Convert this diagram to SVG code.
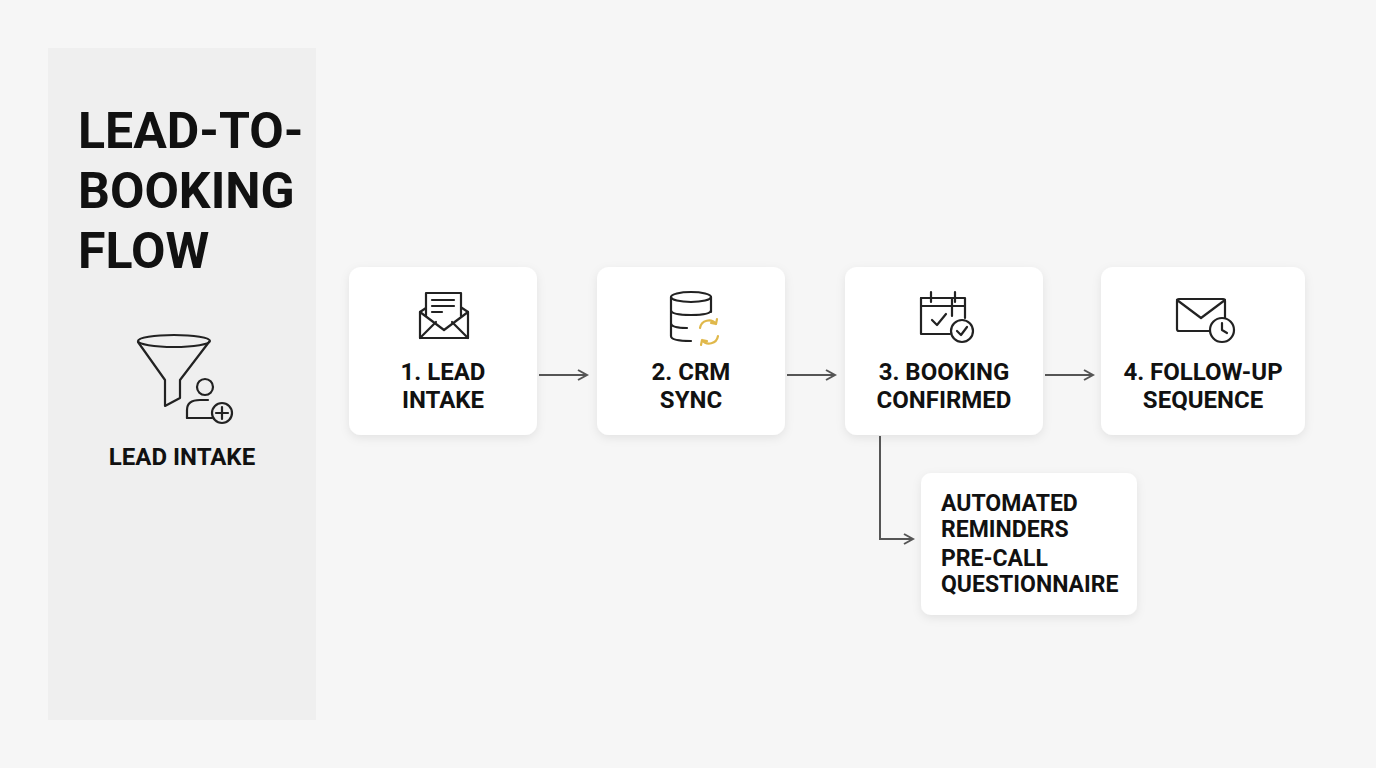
<svg xmlns="http://www.w3.org/2000/svg" width="1376" height="768" viewBox="0 0 1376 768">
<defs>
<filter id="sh" x="-20%" y="-20%" width="140%" height="150%"><feDropShadow dx="0" dy="3" stdDeviation="5" flood-color="#000" flood-opacity="0.08"/></filter>
<marker id="ar" markerWidth="12" markerHeight="12" refX="10" refY="6" orient="auto" markerUnits="userSpaceOnUse"><path d="M1,1 L10,6 L1,11" fill="none" stroke="#555" stroke-width="2"/></marker>
</defs>
<style>
.card{fill:#fff;filter:url(#sh)}
.t{font-family:Roboto,"Liberation Sans",sans-serif;font-weight:700;fill:#111;font-size:24px;text-anchor:middle}
.s{font-family:Roboto,"Liberation Sans",sans-serif;font-weight:700;fill:#111;font-size:23px}
.ic{fill:none;stroke:#222;stroke-width:2.2;stroke-linecap:round;stroke-linejoin:round}
.gd{fill:none;stroke:#e0b84a;stroke-width:2.2;stroke-linecap:round}
.c{fill:none;stroke:#555;stroke-width:2}
</style>
<rect width="1376" height="768" fill="#f6f6f6"/>
<g id="sidebar">
<rect x="48" y="48" width="268" height="672" fill="#efefef"/>
<text font-family="Roboto,'Liberation Sans',sans-serif" font-weight="700" font-size="50" fill="#111"><tspan x="78" y="148">LEAD-TO-</tspan><tspan x="78" y="208">BOOKING</tspan><tspan x="78" y="268">FLOW</tspan></text>
<g class="ic">
<ellipse cx="174" cy="341" rx="36" ry="6"/>
<path d="M138,342 L165,380 L165,406 L180,398 L180,380 L209,342"/>
<circle cx="205" cy="387" r="8"/>
<path d="M187,418 L187,410 Q187,400 200,400 L208,400"/>
<path d="M187,418 L212,418"/>
<circle cx="222" cy="413" r="10"/>
<path d="M222,407 V419 M216,413 H228"/>
</g>
<text class="t" x="182" y="465">LEAD INTAKE</text>
</g>
<g id="n1">
<rect class="card" x="349" y="267" width="188" height="168" rx="12"/>
<g class="ic"><path d="M420,312 L420,338 L468,338 L468,312 L444,296 Z"/><path d="M420,338 L436,322 M468,338 L452,322 M420,312 L444,330 L468,312"/><path d="M426,316 V293 H461 V316" fill="#fff"/><path d="M432,300 H454 M432,306 H454 M432,312 H442"/></g>
<text class="t" x="443" y="380">1. LEAD</text><text class="t" x="443" y="408">INTAKE</text>
</g>
<g id="n2">
<rect class="card" x="597" y="267" width="188" height="168" rx="12"/>
<g class="ic"><ellipse cx="691" cy="297" rx="20" ry="5"/><path d="M671,297 V336 Q671,341 691,341 M711,297 V312 M671,310 Q671,315 691,315 Q711,315 711,310 M671,323 Q671,328 687,328"/></g>
<g class="gd"><path d="M700,328 A9,9 0 0 1 716,324 M716,324 l1,-5 M716,324 l-5,-1"/><path d="M718,336 A9,9 0 0 1 702,340 M702,340 l-1,5 M702,340 l5,1"/></g>
<text class="t" x="691" y="380">2. CRM</text><text class="t" x="691" y="408">SYNC</text>
</g>
<g id="n3">
<rect class="card" x="845" y="267" width="198" height="168" rx="12"/>
<g class="ic"><path d="M952,316 V298 H921 V334 H950"/><path d="M921,306 H965 V318 M921,298 H965 V306 M931,292 V302 M955,292 V302"/><path d="M932,320 L937,325 L946,314"/><circle cx="962" cy="331" r="11"/><path d="M957,331 L961,335 L967,327"/></g>
<text class="t" x="944" y="380">3. BOOKING</text><text class="t" x="944" y="408">CONFIRMED</text>
</g>
<g id="n4">
<rect class="card" x="1101" y="267" width="204" height="168" rx="12"/>
<g class="ic"><rect x="1177" y="299" width="48" height="32" rx="2"/><path d="M1177,300 L1201,318 L1225,300"/><circle cx="1222" cy="330" r="12" fill="#fff"/><path d="M1222,323 V330 L1227,333"/></g>
<text class="t" x="1203" y="380">4. FOLLOW-UP</text><text class="t" x="1203" y="408">SEQUENCE</text>
</g>
<g id="n5">
<rect class="card" x="921" y="473" width="216" height="142" rx="10"/>
<text class="s"><tspan x="941" y="511">AUTOMATED</tspan><tspan x="941" y="537">REMINDERS</tspan><tspan x="941" y="566">PRE-CALL</tspan><tspan x="941" y="592">QUESTIONNAIRE</tspan></text>
</g>
<g id="connectors">
<path class="c" d="M539,375 H587" marker-end="url(#ar)"/>
<path class="c" d="M787,375 H835" marker-end="url(#ar)"/>
<path class="c" d="M1045,375 H1093" marker-end="url(#ar)"/>
<path class="c" d="M880,436 V539 H913" marker-end="url(#ar)"/>
</g>
</svg>
